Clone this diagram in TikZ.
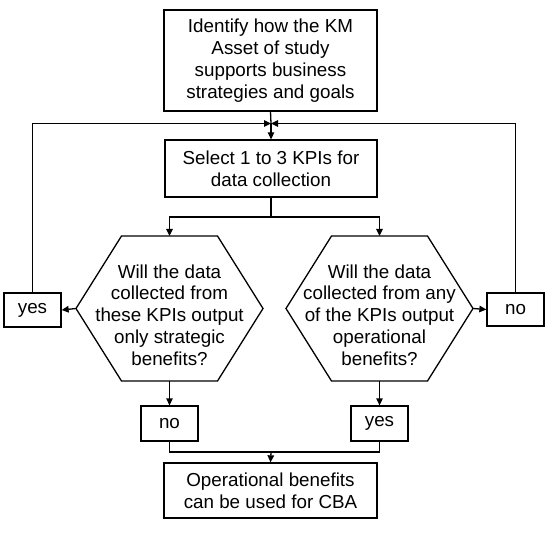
\documentclass[tikz,border=0pt]{standalone}
\usepackage{fontspec}
\setmainfont{Liberation Sans}
\usetikzlibrary{arrows.meta}
\begin{document}
\begin{tikzpicture}[x=1pt,y=-1pt,
  line width=1.3pt,
  every node/.style={font=\fontsize{18.8}{21.8}\selectfont},
  box/.style={draw,inner sep=0pt,align=center},
  txt/.style={inner sep=0pt,align=center},
  arr/.style={-{Triangle[length=7pt,width=6.5pt]}}]
\useasboundingbox (0,0) rectangle (552,540);
% boxes
\node[box,minimum width=213pt,minimum height=101pt] (top) at (270.5,60.5)
  {Identify how the KM\\Asset of study\\supports business\\strategies and goals};
\node[box,minimum width=212pt,minimum height=57pt] (sel) at (271,168.5)
  {Select 1 to 3 KPIs for\\data collection};
\node[box,minimum width=57pt,minimum height=34pt] (yesL) at (32.5,310) {yes};
\node[box,minimum width=57pt,minimum height=33pt] (noR) at (515.5,309.5) {no};
\node[box,minimum width=57pt,minimum height=35pt] (noB) at (169.5,423.5) {no};
\node[box,minimum width=57pt,minimum height=35pt] (yesB) at (379.5,423.5) {yes};
\node[box,minimum width=213pt,minimum height=55pt] (fin) at (270.5,490.5)
  {Operational benefits\\can be used for CBA};
% hexagons
\foreach \n/\cx in {hl/169.5,hr/379.5}{
  \coordinate (\n-w) at (\cx-93.5,308.5);
  \coordinate (\n-e) at (\cx+93.5,308.5);
  \coordinate (\n-n) at (\cx,236);
  \coordinate (\n-s) at (\cx,381);
  \draw (\cx-93.5,308.5) -- (\cx-48,236) -- (\cx+48,236) -- (\cx+93.5,308.5)
        -- (\cx+48,381) -- (\cx-48,381) -- cycle;
}
\node[txt] (ql) at (169.5,315) {Will the data\\collected from\\these KPIs output\\only strategic\\benefits?};
\node[txt] (qr) at (379.5,315) {Will the data\\collected from any\\of the KPIs output\\operational\\benefits?};
% junction coordinates
\coordinate (j) at (271,123.5);
\coordinate (s) at (271,217);
\coordinate (b) at (271,452);
% connectors
\draw (top.south) -- (j);
\draw[arr] (j) -- (sel.north);
\draw[arr] (yesL.north) |- (j);
\draw[arr] (noR.north) |- (j);
\draw (sel.south) -- (s);
\draw[arr] (s) -| (hl-n);
\draw[arr] (s) -| (hr-n);
\draw[arr] (hl-w) -- (yesL.east);
\draw[arr] (hr-e) -- (noR.west);
\draw[arr] (hl-s) -- (noB.north);
\draw[arr] (hr-s) -- (yesB.north);
\draw (noB.south) |- (b);
\draw (yesB.south) |- (b);
\draw[arr] (b) -- (fin.north);
\end{tikzpicture}
\end{document}
